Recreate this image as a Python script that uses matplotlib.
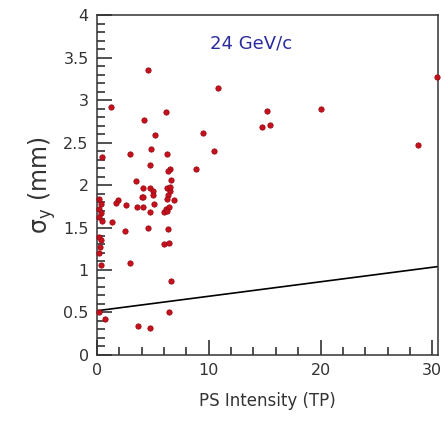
import matplotlib

matplotlib.use("Agg")
import matplotlib.pyplot as plt
from matplotlib.ticker import MultipleLocator

# beam size vs PS intensity
intensity = [
    4.6, 1.25, 6.2, 4.2, 5.2, 4.85, 2.95, 6.3, 0.42, 9.5, 10.5, 10.85,
    15.2, 14.8, 15.5, 20.0, 28.7, 30.4,
    4.7, 6.5, 6.35, 8.85, 6.6, 3.5, 4.15, 4.7, 5.0, 5.05,
    6.3, 6.5, 6.35, 6.55, 6.25, 4.0, 4.15, 5.1, 6.9, 1.9, 1.7, 2.6,
    3.55, 4.15, 4.7, 6.0, 6.2, 6.45, 6.3, 1.3,
    0.2, 0.35, 0.15, 0.4, 0.2, 0.45, 0.2, 0.4, 0.25, 0.2, 0.35,
    2.5, 4.6, 6.35, 5.97, 6.4, 2.98, 6.6, 6.4, 0.2, 0.75, 3.7, 4.7,
]
sigma_y = [
    3.35, 2.92, 2.86, 2.77, 2.59, 2.42, 2.37, 2.37, 2.33, 2.61, 2.4, 3.14,
    2.87, 2.68, 2.71, 2.89, 2.47, 3.27,
    2.24, 2.19, 2.16, 2.19, 2.06, 2.05, 1.97, 1.97, 1.93, 1.88,
    1.97, 1.93, 1.88, 1.98, 1.84, 1.86, 1.86, 1.78, 1.82, 1.82, 1.79, 1.76,
    1.74, 1.74, 1.68, 1.68, 1.72, 1.74, 1.7, 1.57,
    1.83, 1.78, 1.72, 1.67, 1.62, 1.58, 1.39, 1.35, 1.27, 1.2, 1.06,
    1.46, 1.5, 1.48, 1.31, 1.32, 1.08, 0.87, 0.5, 0.5, 0.42, 0.34, 0.32,
]

# straight line drawn under the data
line_x = [0, 30.5]
line_y = [0.52, 1.04]

fig = plt.figure(figsize=(4.45, 4.22), dpi=100)
ax = fig.add_axes([0.218, 0.159, 0.766, 0.805])

ax.plot(line_x, line_y, color="black", lw=1.2)
ax.plot(intensity, sigma_y, "o", color="#c8101c", mec="#9a0a14",
        ms=3.8, mew=0.6, clip_on=False, zorder=3)

ax.set_xlim(0, 30.5)
ax.set_ylim(0, 4)
ax.xaxis.set_major_locator(MultipleLocator(10))
ax.xaxis.set_minor_locator(MultipleLocator(2))
ax.yaxis.set_major_locator(MultipleLocator(0.5))
ax.yaxis.set_minor_locator(MultipleLocator(0.1))
ax.yaxis.set_major_formatter(plt.FuncFormatter(lambda v, p: f"{v:g}"))

ax.tick_params(which="both", direction="in", width=1.1, colors="#222222",
               labelsize=11.5, labelcolor="#333333")
ax.tick_params(which="major", length=10.5, pad=6)
ax.tick_params(which="minor", length=5.5)
for s in ax.spines.values():
    s.set_color("#333333")
    s.set_linewidth(1.1)

ax.text(10.1, 3.67, "24 GeV/c", color="#2b2ba0", fontsize=13, va="center")
ax.set_xlabel("PS Intensity (TP)", fontsize=12, color="#333333", labelpad=10)
ax.set_ylabel(r"σ$_\mathregular{y}$ (mm)", fontsize=17, color="#333333",
              labelpad=4)

fig.savefig("out.png", dpi=100)
